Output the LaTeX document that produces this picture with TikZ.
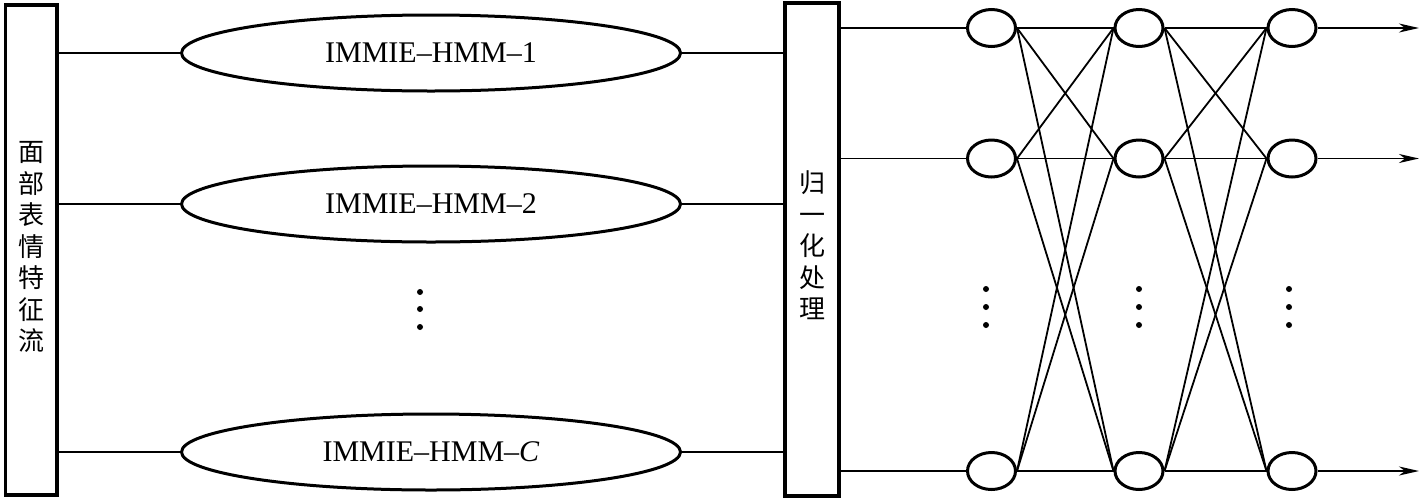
\documentclass[tikz,border=0pt]{standalone}
\usepackage{fontspec}
\setmainfont{Liberation Serif}
\newfontfamily\cjk{Noto Sans CJK SC}
\usetikzlibrary{shapes.geometric,arrows.meta}
\begin{document}
\begin{tikzpicture}[x=1pt,y=-1pt,
  bar/.style={draw,line width=3.5pt,inner sep=0pt,align=center,
    font=\cjk\fontsize{26}{31.5}\selectfont},
  hmm/.style={ellipse,draw,line width=3pt,minimum width=499pt,minimum height=76pt,
    inner sep=0pt,font=\fontsize{30}{36}\selectfont},
  st/.style={ellipse,draw,line width=3pt,minimum width=48pt,minimum height=37pt,inner sep=0pt},
  conn/.style={line width=1.8pt},
  arr/.style={line width=1.8pt,-{Stealth[length=20pt,width=9pt,inset=6pt]}},
  vdot/.style={circle,fill,inner sep=0pt,minimum size=6pt}]
\useasboundingbox (0,0) rectangle (1419,499);

% bars
\node[bar,minimum width=51.5pt,minimum height=490pt] (L) at (31.25,250) {\raisebox{-7pt}{\begin{tabular}{@{}c@{}}面\\部\\表\\情\\特\\征\\流\end{tabular}}};
\node[bar,minimum width=54pt,minimum height=493pt] (N) at (812,249.5) {\raisebox{3pt}{\begin{tabular}{@{}c@{}}归\\一\\化\\处\\理\end{tabular}}};

% HMM ellipses
\node[hmm] (H1) at (431,53) {\raisebox{-4.5pt}{IMMIE–HMM–1}};
\node[hmm] (H2) at (431,204) {\raisebox{-4.5pt}{IMMIE–HMM–2}};
\node[hmm] (HC) at (431,452) {\raisebox{-4.5pt}{IMMIE–HMM–\textit{C}}};

\foreach \h in {H1,H2,HC}{
  \draw[conn] (L.east |- \h.west) -- (\h.west);
  \draw[conn] (\h.east) -- (N.west |- \h.east);
}

% dots
\node[vdot] (d1) at (420,292) {};
\node[vdot] (d2) at (420,309) {};
\node[vdot] (d3) at (420,327) {};

% state nodes
\foreach \c/\x in {1/991.5,2/1139,3/1292}{
  \foreach \r/\y in {1/28,2/158.5,3/471}{
    \node[st] (s\c\r) at (\x,\y) {};
  }
}
\foreach \c/\x in {1/986,2/1139,3/1289}{
  \node[vdot] (e\c a) at (\x,289) {};
  \node[vdot] (e\c b) at (\x,307) {};
  \node[vdot] (e\c c) at (\x,325) {};
}

% inputs
\foreach \r in {1,2,3}{
  \draw[conn] (N.east |- s1\r.west) -- (s1\r.west);
}
% transitions
\foreach \a/\b in {1/2,2/3}{
  \foreach \i in {1,2,3}{
    \foreach \j in {1,2,3}{
      \draw[conn] (s\a\i.east) -- (s\b\j.west);
    }
  }
}
% outputs
\foreach \r/\y in {1/28,2/158.5,3/471}{
  \coordinate (o\r) at (1419,\y);
  \draw[arr] (s3\r.east) -- (o\r);
}
\end{tikzpicture}
\end{document}
